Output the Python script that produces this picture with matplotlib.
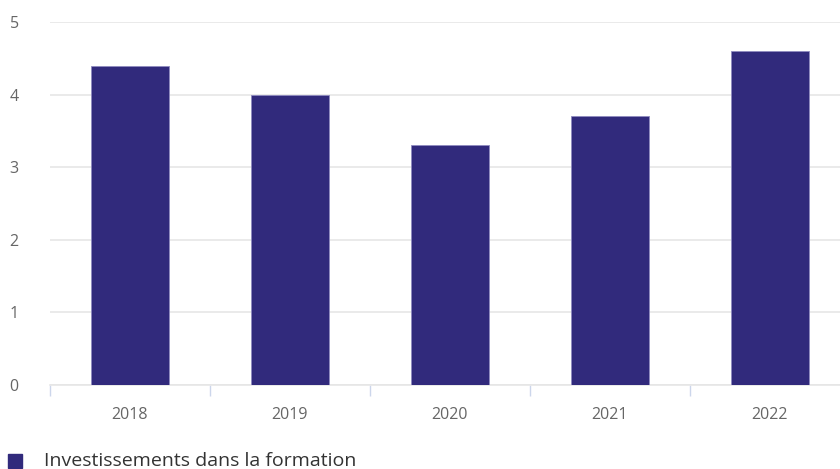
import matplotlib
matplotlib.use("Agg")
import matplotlib.pyplot as plt
import numpy as np

categories = ["2018", "2019", "2020", "2021", "2022"]
values = [4.4, 4.0, 3.3, 3.7, 4.6]
series_name = "Investissements dans la formation"
yticks = [0, 1, 2, 3, 4, 5]

plt.rcParams['font.family'] = ['Open Sans', 'DejaVu Sans']

W, H = 840, 469
fig = plt.figure(figsize=(W/100, H/100), dpi=100)
left, right = 50, 850
top, bottom = 22, 385
ax = fig.add_axes([left/W, 1-bottom/H, (right-left)/W, (bottom-top)/H])

x = np.arange(len(categories))
bar_color = "#312a7c"
ax.bar(x, values, width=0.485, color=bar_color, edgecolor="#8f8bc0", linewidth=0.6, zorder=3)

ax.set_xlim(-0.5, len(categories)-0.5)
ax.set_ylim(0, 5)
ax.set_yticks(yticks)
ax.set_yticklabels([str(t) for t in yticks])
ax.set_xticks(x)
ax.set_xticklabels(categories)
ax.set_xticks(np.arange(-0.5, len(categories)), minor=True)

for s in ["top", "right", "left"]:
    ax.spines[s].set_visible(False)
ax.spines["bottom"].set_color("#e6e6e6")
ax.spines["bottom"].set_linewidth(1.2)

ax.yaxis.grid(True, color="#e6e6e6", linewidth=1.2, zorder=0)
ax.set_axisbelow(True)

ax.tick_params(axis="y", length=0, labelsize=11.5, labelcolor="#666666", pad=29)
for lab in ax.get_yticklabels():
    lab.set_horizontalalignment("left")
ax.tick_params(axis="x", which="major", length=0, labelsize=11.5, labelcolor="#666666", pad=16)
ax.tick_params(axis="x", which="minor", length=8, width=1, color="#ccd6eb")

# legend
fig.patches.append(plt.Rectangle((8/W, 1-468/H), 14/W, 14/H, transform=fig.transFigure,
                                 color=bar_color, figure=fig))
fig.text(44/W, 1-461/H, series_name, fontsize=14, color="#333333", va="center", ha="left")

fig.savefig("out.png", dpi=100)
